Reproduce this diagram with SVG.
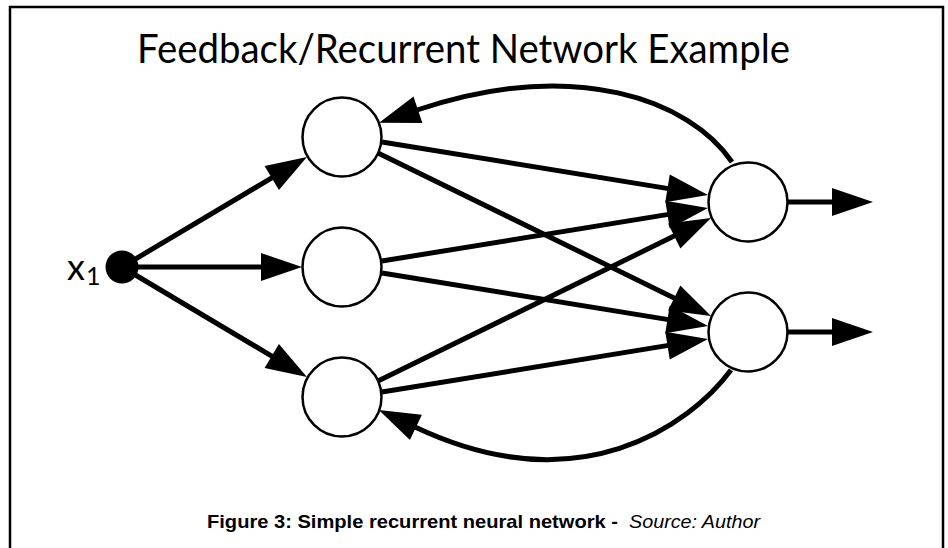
<svg xmlns="http://www.w3.org/2000/svg" width="948" height="548" viewBox="0 0 948 548">
<defs>
<marker id="ah" markerUnits="userSpaceOnUse" markerWidth="42" markerHeight="30" refX="1" refY="14" orient="auto" viewBox="0 0 42 30" overflow="visible"><path d="M0,0 L41,14 L0,28 z" fill="#000"/></marker>
<style>
.e{fill:none;stroke:#000;stroke-width:5;marker-end:url(#ah)}
.n{fill:#fff;stroke:#000;stroke-width:2.5}
.t{font-family:Lato,"Open Sans","Liberation Sans",sans-serif;fill:#000}
.c{font-family:"Liberation Sans",Arial,sans-serif;font-size:19px;fill:#000}
</style>
</defs>
<rect x="0" y="0" width="948" height="548" fill="#fff"/>
<rect x="10" y="7" width="933" height="560" fill="none" stroke="#000" stroke-width="2.5"/>
<text class="t" x="463.5" y="63" font-size="41" text-anchor="middle" textLength="653" lengthAdjust="spacingAndGlyphs">Feedback/Recurrent Network Example</text>
<g id="connectors">
<path class="e" d="M122,267 L272.6,177.4"/>
<path class="e" d="M122,267 L262,267"/>
<path class="e" d="M122,267 L272.6,356.6"/>
<path class="e" d="M382,142 L668.5,188.6"/>
<path class="e" d="M378,153 L675.1,298.4"/>
<path class="e" d="M382,261 L668.5,214.4"/>
<path class="e" d="M382,273 L668.5,319.6"/>
<path class="e" d="M378,381 L675.1,235.6"/>
<path class="e" d="M382,392 L668.5,345.4"/>
<path class="e" d="M788,202 L833,202"/>
<path class="e" d="M788,332 L833,332"/>
<path class="e" d="M732,162 C690,100 575,57 417,110"/>
<path class="e" d="M731,370 C690,425 580,505 415,427"/>
</g>
<g id="x1">
<circle cx="122" cy="267" r="16.5" fill="#000"/>
<text class="t" x="67" y="280" font-size="36">x</text>
<text class="t" x="86" y="285" font-size="25">1</text>
</g>
<g id="h1"><circle class="n" cx="342" cy="137" r="39.5"/></g>
<g id="h2"><circle class="n" cx="342" cy="267" r="39.5"/></g>
<g id="h3"><circle class="n" cx="342" cy="397" r="39.5"/></g>
<g id="o1"><circle class="n" cx="748" cy="202" r="39.5"/></g>
<g id="o2"><circle class="n" cx="748" cy="332" r="39.5"/></g>
<text class="c" x="207" y="528" font-weight="bold" textLength="411" lengthAdjust="spacingAndGlyphs">Figure 3: Simple recurrent neural network -</text>
<text class="c" x="629" y="528" font-style="italic" textLength="131" lengthAdjust="spacingAndGlyphs">Source: Author</text>
</svg>
